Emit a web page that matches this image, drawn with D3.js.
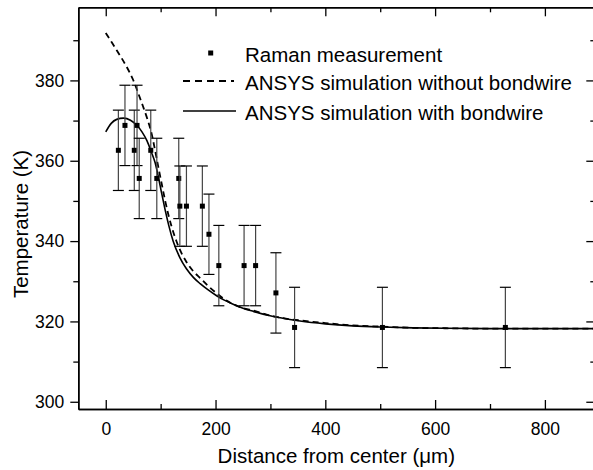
<!DOCTYPE html>
<html>
<head>
<meta charset="utf-8">
<script src="https://cdn.jsdelivr.net/npm/d3@7"></script>
<style>
    body { margin: 0; background: #fff; }
    text { font-family: Arial, "Liberation Sans", sans-serif; }
</style>
</head>
<body>
<div id="plot"></div>
<script>
// Raman measurement points (distance um, temperature K), error +/- 10 K
const ramanDistance = [23, 35, 52, 57, 61, 82, 93, 133, 135, 147, 176, 188, 206, 252, 273, 310, 344, 504, 728];
const ramanTemp = [362.6, 368.8, 362.6, 368.8, 355.6, 362.6, 355.6, 355.6, 348.7, 348.7, 348.7, 341.7, 333.9, 333.9, 333.9, 327.1, 318.5, 318.5, 318.5];
const ramanError = [10, 10, 10, 10, 10, 10, 10, 10, 10, 10, 10, 10, 10, 10, 10, 10, 10, 10, 10];

// ANSYS without bondwire (dashed)
const noWireDistance = [0, 10, 20, 30, 38, 50, 60, 68, 76, 84, 90, 96, 102, 108, 114, 120, 129, 138, 147, 160, 172, 186, 202, 220, 244, 269, 293, 323, 345, 400, 450, 504, 560, 620, 700, 800, 890];
const noWireTemp = [391.8, 389.7, 387.5, 385.3, 383.4, 380.1, 376.5, 373.5, 370.3, 366.5, 362.5, 358.3, 354.2, 350.2, 346.6, 343.6, 339.9, 337.0, 334.8, 332.4, 330.8, 328.9, 327.0, 325.2, 323.6, 322.7, 321.7, 320.8, 320.4, 319.6, 319.0, 318.7, 318.4, 318.3, 318.2, 318.2, 318.2];

// ANSYS with bondwire (solid)
const wireDistance = [0, 10, 20, 32, 45, 56, 66, 75, 83, 90, 96, 102, 108, 115, 123, 135, 147, 160, 172, 186, 202, 216, 232, 250, 269, 293, 318, 354, 400, 450, 504, 560, 620, 700, 800, 890];
const wireTemp = [367.2, 369.3, 370.3, 370.6, 370.1, 368.9, 367.2, 365.0, 362.2, 359.5, 355.9, 351.8, 347.9, 343.8, 339.9, 335.9, 333.1, 330.9, 329.4, 327.9, 326.4, 325.3, 324.3, 323.3, 322.5, 321.6, 320.9, 320.1, 319.4, 318.9, 318.6, 318.4, 318.3, 318.2, 318.2, 318.2];

const xMajorTicks = [0, 200, 400, 600, 800];
const xMinorTicks = [100, 300, 500, 700];
const yMajorTicks = [300, 320, 340, 360, 380];
const yMinorTicks = [310, 330, 350, 370, 390];

const legendLabels = ["Raman measurement", "ANSYS simulation without bondwire", "ANSYS simulation with bondwire"];

const width = 593, height = 470;
const box = { left: 78.3, top: 7.3, right: 594.3, bottom: 409 };
const font = "Arial, 'Liberation Sans', sans-serif";

const svg = d3.select("#plot").append("svg")
    .attr("width", width)
    .attr("height", height);

const xScale = d3.scaleLinear().domain([-50, 890]).range([box.left, box.right]);
const yScale = d3.scaleLinear().domain([298.2, 398.2]).range([box.bottom, box.top]);

function drawAxis(axis, transform, labels) {
    const g = svg.append("g")
        .attr("transform", transform)
        .call(axis);
    g.select(".domain").attr("stroke", "#000").attr("stroke-width", 1.5);
    g.selectAll(".tick line").attr("stroke", "#000").attr("stroke-width", 1.3);
    if (!labels) {
        g.selectAll(".tick text").remove();
    } else {
        g.selectAll(".tick text")
            .attr("fill", "#000")
            .attr("font-size", "17.5px")
            .attr("font-family", font);
    }
    return g;
}

// minor ticks first, then major with labels
drawAxis(d3.axisBottom(xScale).tickValues(xMinorTicks).tickSize(-5).tickSizeOuter(0), `translate(0,${box.bottom})`, false);
drawAxis(d3.axisTop(xScale).tickValues(xMinorTicks).tickSize(-5).tickSizeOuter(0), `translate(0,${box.top})`, false);
drawAxis(d3.axisLeft(yScale).tickValues(yMinorTicks).tickSize(5).tickSizeOuter(0), `translate(${box.left},0)`, false);
drawAxis(d3.axisRight(yScale).tickValues(yMinorTicks).tickSize(-4).tickSizeOuter(0), `translate(${box.right},0)`, false);

drawAxis(d3.axisBottom(xScale).tickValues(xMajorTicks).tickSize(-9).tickSizeOuter(0).tickPadding(14), `translate(0,${box.bottom})`, true);
drawAxis(d3.axisTop(xScale).tickValues(xMajorTicks).tickSize(-9).tickSizeOuter(0), `translate(0,${box.top})`, false);
drawAxis(d3.axisLeft(yScale).tickValues(yMajorTicks).tickSize(8).tickSizeOuter(0).tickPadding(6), `translate(${box.left},0)`, true);
drawAxis(d3.axisRight(yScale).tickValues(yMajorTicks).tickSize(-8).tickSizeOuter(0), `translate(${box.right},0)`, false);

// axis titles
svg.append("text")
    .attr("x", (box.left + box.right) / 2)
    .attr("y", 463)
    .attr("text-anchor", "middle")
    .attr("font-size", "20.5px")
    .attr("fill", "#000")
    .text("Distance from center (\u03bcm)");

svg.append("text")
    .attr("transform", "translate(28,224) rotate(-90)")
    .attr("text-anchor", "middle")
    .attr("font-size", "20.5px")
    .attr("fill", "#000")
    .text("Temperature (K)");

// simulation curves
const plot = svg.append("g");

const line = d3.line()
    .x(d => xScale(d[0]))
    .y(d => yScale(d[1]))
    .curve(d3.curveMonotoneX);

plot.append("path")
    .datum(d3.zip(noWireDistance, noWireTemp))
    .attr("d", line)
    .attr("fill", "none")
    .attr("stroke", "#000")
    .attr("stroke-width", 1.8)
    .attr("stroke-dasharray", "6,4");

plot.append("path")
    .datum(d3.zip(wireDistance, wireTemp))
    .attr("d", line)
    .attr("fill", "none")
    .attr("stroke", "#000")
    .attr("stroke-width", 1.6);

// Raman points with error bars
const raman = d3.zip(ramanDistance, ramanTemp, ramanError);
const bars = plot.append("g").selectAll("g")
    .data(raman)
    .join("g");

bars.append("line")
    .attr("x1", d => xScale(d[0]))
    .attr("x2", d => xScale(d[0]))
    .attr("y1", d => yScale(d[1] - d[2]))
    .attr("y2", d => yScale(d[1] + d[2]))
    .attr("stroke", "#444")
    .attr("stroke-width", 1.2);

[-1, 1].forEach(s => {
    bars.append("line")
        .attr("x1", d => xScale(d[0]) - 5.5)
        .attr("x2", d => xScale(d[0]) + 5.5)
        .attr("y1", d => yScale(d[1] + s * d[2]))
        .attr("y2", d => yScale(d[1] + s * d[2]))
        .attr("stroke", "#000")
        .attr("stroke-width", 1.2);
});

bars.append("rect")
    .attr("x", d => xScale(d[0]) - 2.5)
    .attr("y", d => yScale(d[1]) - 2.5)
    .attr("width", 5)
    .attr("height", 5)
    .attr("fill", "#000");

// legend
const legend = svg.append("g");
const rowY = [53, 81, 111];

legend.append("rect")
    .attr("x", 208.2).attr("y", rowY[0] - 2.5)
    .attr("width", 5).attr("height", 5)
    .attr("fill", "#000");

legend.append("line")
    .attr("x1", 183).attr("x2", 234)
    .attr("y1", rowY[1]).attr("y2", rowY[1])
    .attr("stroke", "#000").attr("stroke-width", 1.8)
    .attr("stroke-dasharray", "7,5");

legend.append("line")
    .attr("x1", 183).attr("x2", 236)
    .attr("y1", rowY[2]).attr("y2", rowY[2])
    .attr("stroke", "#000").attr("stroke-width", 1.6);

legend.selectAll("text")
    .data(legendLabels)
    .join("text")
    .attr("x", 245)
    .attr("y", (d, i) => rowY[i] + 8.5)
    .attr("font-size", "20.5px")
    .attr("fill", "#000")
    .text(d => d);
</script>
</body>
</html>
